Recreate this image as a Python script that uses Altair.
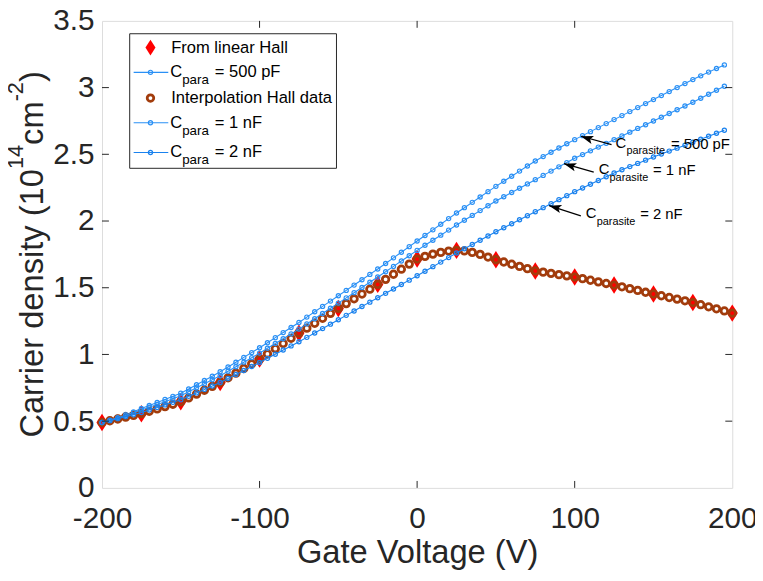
import altair as alt
import pandas as pd

# ---------------- data ----------------
hall_v = [-200, -175, -150, -125, -100, -75, -50, -25, 0, 25, 50, 75, 100, 125, 150, 175, 200]
hall_n = [0.49, 0.556, 0.645, 0.79, 0.965, 1.16, 1.345, 1.525, 1.715, 1.78, 1.71, 1.626,
          1.58, 1.52, 1.453, 1.389, 1.31]

interp_v = list(range(-200, 201, 5))
interp_n = [0.490, 0.503, 0.516, 0.530, 0.543, 0.556, 0.574, 0.592, 0.609, 0.627,
            0.645, 0.674, 0.703, 0.732, 0.761, 0.790, 0.825, 0.860, 0.895, 0.930,
            0.965, 1.004, 1.043, 1.082, 1.121, 1.160, 1.197, 1.234, 1.271, 1.308,
            1.345, 1.381, 1.417, 1.453, 1.489, 1.525, 1.563, 1.601, 1.639, 1.677,
            1.715, 1.735, 1.752, 1.765, 1.775, 1.780, 1.776, 1.765, 1.750, 1.730,
            1.710, 1.693, 1.676, 1.660, 1.643, 1.626, 1.617, 1.608, 1.598, 1.589,
            1.580, 1.568, 1.556, 1.544, 1.532, 1.520, 1.507, 1.493, 1.480, 1.466,
            1.453, 1.440, 1.427, 1.415, 1.402, 1.389, 1.373, 1.357, 1.342, 1.326,
            1.310]

cpara_v = list(range(-200, 200, 5))
c500_n = [0.49, 0.51, 0.53, 0.55, 0.57, 0.595, 0.617, 0.64, 0.663, 0.686,
          0.71, 0.741, 0.773, 0.805, 0.837, 0.87, 0.906, 0.942, 0.978, 1.014,
          1.05, 1.088, 1.126, 1.164, 1.202, 1.24, 1.28, 1.32, 1.36, 1.40,
          1.44, 1.48, 1.52, 1.56, 1.60, 1.64, 1.682, 1.724, 1.766, 1.808,
          1.85, 1.892, 1.934, 1.976, 2.018, 2.06, 2.10, 2.14, 2.18, 2.22,
          2.26, 2.298, 2.336, 2.374, 2.412, 2.45, 2.483, 2.515, 2.547, 2.579,
          2.61, 2.64, 2.67, 2.70, 2.73, 2.76, 2.79, 2.82, 2.85, 2.88,
          2.91, 2.94, 2.97, 3.00, 3.03, 3.06, 3.088, 3.116, 3.143, 3.17]
c1n_n = [0.49, 0.508, 0.526, 0.545, 0.564, 0.583, 0.604, 0.625, 0.646, 0.668,
         0.69, 0.72, 0.75, 0.78, 0.81, 0.84, 0.874, 0.908, 0.942, 0.976,
         1.01, 1.046, 1.082, 1.118, 1.154, 1.19, 1.229, 1.268, 1.307, 1.346,
         1.385, 1.424, 1.463, 1.502, 1.541, 1.58, 1.62, 1.66, 1.70, 1.74,
         1.78, 1.818, 1.856, 1.894, 1.932, 1.97, 2.006, 2.042, 2.078, 2.114,
         2.15, 2.182, 2.214, 2.246, 2.278, 2.31, 2.342, 2.374, 2.406, 2.438,
         2.47, 2.498, 2.526, 2.554, 2.582, 2.61, 2.638, 2.666, 2.694, 2.722,
         2.75, 2.778, 2.806, 2.834, 2.862, 2.89, 2.92, 2.95, 2.98, 3.01]
c2n_n = [0.49, 0.504, 0.519, 0.534, 0.549, 0.565, 0.584, 0.603, 0.622, 0.641,
         0.66, 0.686, 0.712, 0.738, 0.764, 0.79, 0.82, 0.85, 0.88, 0.91,
         0.94, 0.971, 1.002, 1.033, 1.064, 1.095, 1.128, 1.161, 1.194, 1.227,
         1.26, 1.293, 1.326, 1.359, 1.392, 1.425, 1.458, 1.491, 1.524, 1.557,
         1.59, 1.624, 1.658, 1.692, 1.726, 1.76, 1.792, 1.824, 1.856, 1.888,
         1.92, 1.95, 1.98, 2.01, 2.04, 2.07, 2.10, 2.13, 2.16, 2.19,
         2.22, 2.248, 2.276, 2.304, 2.332, 2.36, 2.384, 2.408, 2.432, 2.456,
         2.48, 2.502, 2.524, 2.546, 2.568, 2.59, 2.613, 2.635, 2.658, 2.68]

x_ticks = [-200, -100, 0, 100, 200]
y_ticks = [0, 0.5, 1, 1.5, 2, 2.5, 3, 3.5]
x_inner_ticks = [-100, 0, 100]
y_inner_ticks = [0.5, 1, 1.5, 2, 2.5, 3]

# arrows: head (V, n), tail (V2, n2), rotation of head
arrow_v = [104.0, 93.2, 83.8]
arrow_n = [2.635, 2.43, 2.115]
arrow_v2 = [123.4, 112.1, 103.9]
arrow_n2 = [2.573, 2.366, 2.039]
arrow_angle = [288, 287, 286]

legend_labels = ["From linear Hall", "= 500 pF", "Interpolation Hall data", "= 1 nF", "= 2 nF"]
annot_values = ["= 500 pF", "= 1 nF", "= 2 nF"]

# ---------------- style ----------------
W, H = 637, 472
FONT = "Liberation Sans"
INK = "#262626"
RED = "#ff0000"
BROWN = "#a23c0c"
BLUE1 = "#2a90f5"
BLUE2 = "#2a90f5"
BLUE3 = "#1a82ee"

xs = alt.Scale(domain=[-200, 200], nice=False, zero=False)
ys = alt.Scale(domain=[0, 3.5], nice=False, zero=False)

common_axis = dict(domain=False, ticks=False, grid=False, labelFlush=False, labelOverlap=False,
                   labelFont=FONT, labelFontSize=30, labelColor=INK,
                   titleFont=FONT, titleFontSize=33, titleColor=INK, titleFontWeight="normal",
                   labelExpr="'' + datum.value")
xaxis = alt.Axis(values=x_ticks, title="Gate Voltage (V)", labelPadding=16, titlePadding=3, **common_axis)
yaxis = alt.Axis(values=y_ticks, title="", labelPadding=8, **common_axis)

X = lambda f="V": alt.X(f + ":Q", scale=xs, axis=xaxis)
Y = lambda f="n": alt.Y(f + ":Q", scale=ys, axis=yaxis)

DIAMOND = "M0,-1 L0.64,0 L0,1 L-0.64,0 Z"
ARROWHEAD = "M0,0 L0.34,1 L0,0.78 L-0.34,1 Z"

hall_df = pd.DataFrame({"V": hall_v, "n": hall_n})
interp_df = pd.DataFrame({"V": interp_v, "n": interp_n})
assert len(interp_v) == len(interp_n)
assert len(cpara_v) == len(c500_n) == len(c1n_n) == len(c2n_n)

layers = []

# diamonds
layers.append(alt.Chart(hall_df).mark_point(shape=DIAMOND, filled=True, color=RED, size=310,
                                             opacity=1, strokeWidth=0).encode(x=X(), y=Y()))


def blue_curve(vals, color):
    df = pd.DataFrame({"V": cpara_v, "n": vals})
    base = alt.Chart(df)
    return [base.mark_line(color=color, strokeWidth=1.1).encode(x=X(), y=Y()),
            base.mark_point(shape="circle", filled=False, color=color, size=18, strokeWidth=1.2,
                            opacity=1).encode(x=X(), y=Y())]


layers += blue_curve(c500_n, BLUE1)
layers.append(alt.Chart(interp_df).mark_point(shape="circle", filled=False, color=BROWN, size=44,
                                               strokeWidth=2.8, opacity=1).encode(x=X(), y=Y()))
layers += blue_curve(c1n_n, BLUE2)
layers += blue_curve(c2n_n, BLUE3)

# inner ticks (MATLAB style)
xt = pd.DataFrame({"V": x_inner_ticks})
yt = pd.DataFrame({"n": y_inner_ticks})
layers.append(alt.Chart(xt).mark_rule(color=INK, strokeWidth=1).encode(x=X(), y=alt.value(H), y2=alt.value(H - 7)))
layers.append(alt.Chart(xt).mark_rule(color=INK, strokeWidth=1).encode(x=X(), y=alt.value(0), y2=alt.value(7)))
layers.append(alt.Chart(yt).mark_rule(color=INK, strokeWidth=1).encode(y=Y(), x=alt.value(0), x2=alt.value(7)))
layers.append(alt.Chart(yt).mark_rule(color=INK, strokeWidth=1).encode(y=Y(), x=alt.value(W), x2=alt.value(W - 7)))

# arrows
arr = pd.DataFrame({"V": arrow_v, "n": arrow_n, "V2": arrow_v2, "n2": arrow_n2, "ang": arrow_angle})
layers.append(alt.Chart(arr).mark_rule(color="black", strokeWidth=1.2).encode(
    x=X(), y=Y(), x2="V2:Q", y2="n2:Q"))
layers.append(alt.Chart(arr).mark_point(shape=ARROWHEAD, filled=True, color="black", size=620,
                                         opacity=1, strokeWidth=0).encode(
    x=X(), y=Y(), angle=alt.Angle("ang:Q", scale=None)))

# annotation texts (pixel positions in plot frame)
ann_rows = []
for (cx, cy), val in zip([(519, 123), (502, 150), (489, 194)], annot_values):
    ann_rows.append({"t": "C", "px": cx, "py": cy, "fs": 15})
    ann_rows.append({"t": "parasite", "px": cx + 11, "py": cy + 9, "fs": 11})
    ann_rows.append({"t": val, "px": cx + 56 if val == "= 500 pF" else cx + 55, "py": cy + 1, "fs": 15})
ann_df = pd.DataFrame(ann_rows)
layers.append(alt.Chart(ann_df).mark_text(align="left", baseline="middle", font=FONT, color="black").encode(
    x=alt.X("px:Q", scale=None), y=alt.Y("py:Q", scale=None), text="t:N", size=alt.Size("fs:Q", scale=None)))

# legend box
box = pd.DataFrame({"a": [0]})
layers.append(alt.Chart(box).mark_rect(fill="white", stroke=INK, strokeWidth=1).encode(
    x=alt.value(28), x2=alt.value(237), y=alt.value(13), y2=alt.value(149)))
row_y = [27, 52, 78, 103, 133]
sym_x = 49
# legend lines
lg_lines = pd.DataFrame({"y": [row_y[1], row_y[3], row_y[4]], "c": [BLUE1, BLUE2, BLUE3]})
layers.append(alt.Chart(lg_lines).mark_rule(strokeWidth=1.1).encode(
    x=alt.value(32), x2=alt.value(67), y=alt.Y("y:Q", scale=None), color=alt.Color("c:N", scale=None)))
layers.append(alt.Chart(lg_lines).mark_point(shape="circle", filled=False, size=18, strokeWidth=1.2, opacity=1).encode(
    x=alt.value(sym_x), y=alt.Y("y:Q", scale=None), color=alt.Color("c:N", scale=None)))
layers.append(alt.Chart(pd.DataFrame({"y": [row_y[0]]})).mark_point(
    shape=DIAMOND, filled=True, color=RED, size=250, opacity=1, strokeWidth=0).encode(
    x=alt.value(sym_x), y=alt.Y("y:Q", scale=None)))
layers.append(alt.Chart(pd.DataFrame({"y": [row_y[2]]})).mark_point(
    shape="circle", filled=False, color=BROWN, size=44, strokeWidth=2.8, opacity=1).encode(
    x=alt.value(sym_x), y=alt.Y("y:Q", scale=None)))
LFS = 16.7
lg_rows = [{"t": legend_labels[0], "px": 70, "py": row_y[0], "fs": LFS},
           {"t": legend_labels[2], "px": 70, "py": row_y[2], "fs": LFS}]
for i, lab in [(1, legend_labels[1]), (3, legend_labels[3]), (4, legend_labels[4])]:
    lg_rows.append({"t": "C", "px": 69, "py": row_y[i], "fs": LFS})
    lg_rows.append({"t": "para", "px": 81, "py": row_y[i] + 8, "fs": 13.5})
    lg_rows.append({"t": lab, "px": 114, "py": row_y[i], "fs": LFS})
layers.append(alt.Chart(pd.DataFrame(lg_rows)).mark_text(align="left", baseline="middle", font=FONT, color="black").encode(
    x=alt.X("px:Q", scale=None), y=alt.Y("py:Q", scale=None), text="t:N", size=alt.Size("fs:Q", scale=None)))

# y-axis title with superscripts, rotated
CW = {" ": 278, "(": 333, ")": 333, "-": 333, "C": 722, "a": 556, "r": 333, "i": 222, "e": 556,
      "d": 556, "n": 556, "s": 500, "t": 278, "y": 500, "c": 500, "m": 833}
for dgt in "0123456789":
    CW[dgt] = 556


def tw(s, fs):
    return sum(CW[ch] for ch in s) / 1000 * fs


FT, FSUP = 33, 22
segs = [("Carrier density (10", FT, 0), ("14", FSUP, 1), ("cm", FT, 0), ("-2", FSUP, 1), (")", FT, 0)]
total = sum(tw(s, f) for s, f, _ in segs)
ycur = H / 2 + total / 2
xb = -60
yt_rows = []
for s, f, sup in segs:
    yt_rows.append({"t": s, "px": xb - (20 if sup else 0), "py": ycur, "fs": f})
    ycur -= tw(s, f)
layers.append(alt.Chart(pd.DataFrame(yt_rows)).mark_text(
    angle=270, align="left", baseline="alphabetic", font=FONT, color=INK).encode(
    x=alt.X("px:Q", scale=None), y=alt.Y("py:Q", scale=None), text="t:N", size=alt.Size("fs:Q", scale=None)))

chart = alt.layer(*layers).properties(
    width=W, height=H,
    padding={"left": 95, "top": 10, "right": 23, "bottom": 82},
    autosize=alt.AutoSizeParams(type="none"),
    background="white",
).configure_view(stroke=INK, strokeWidth=1).configure(font=FONT)

chart.save("out.html", embed_options={"renderer": "svg", "actions": False})
